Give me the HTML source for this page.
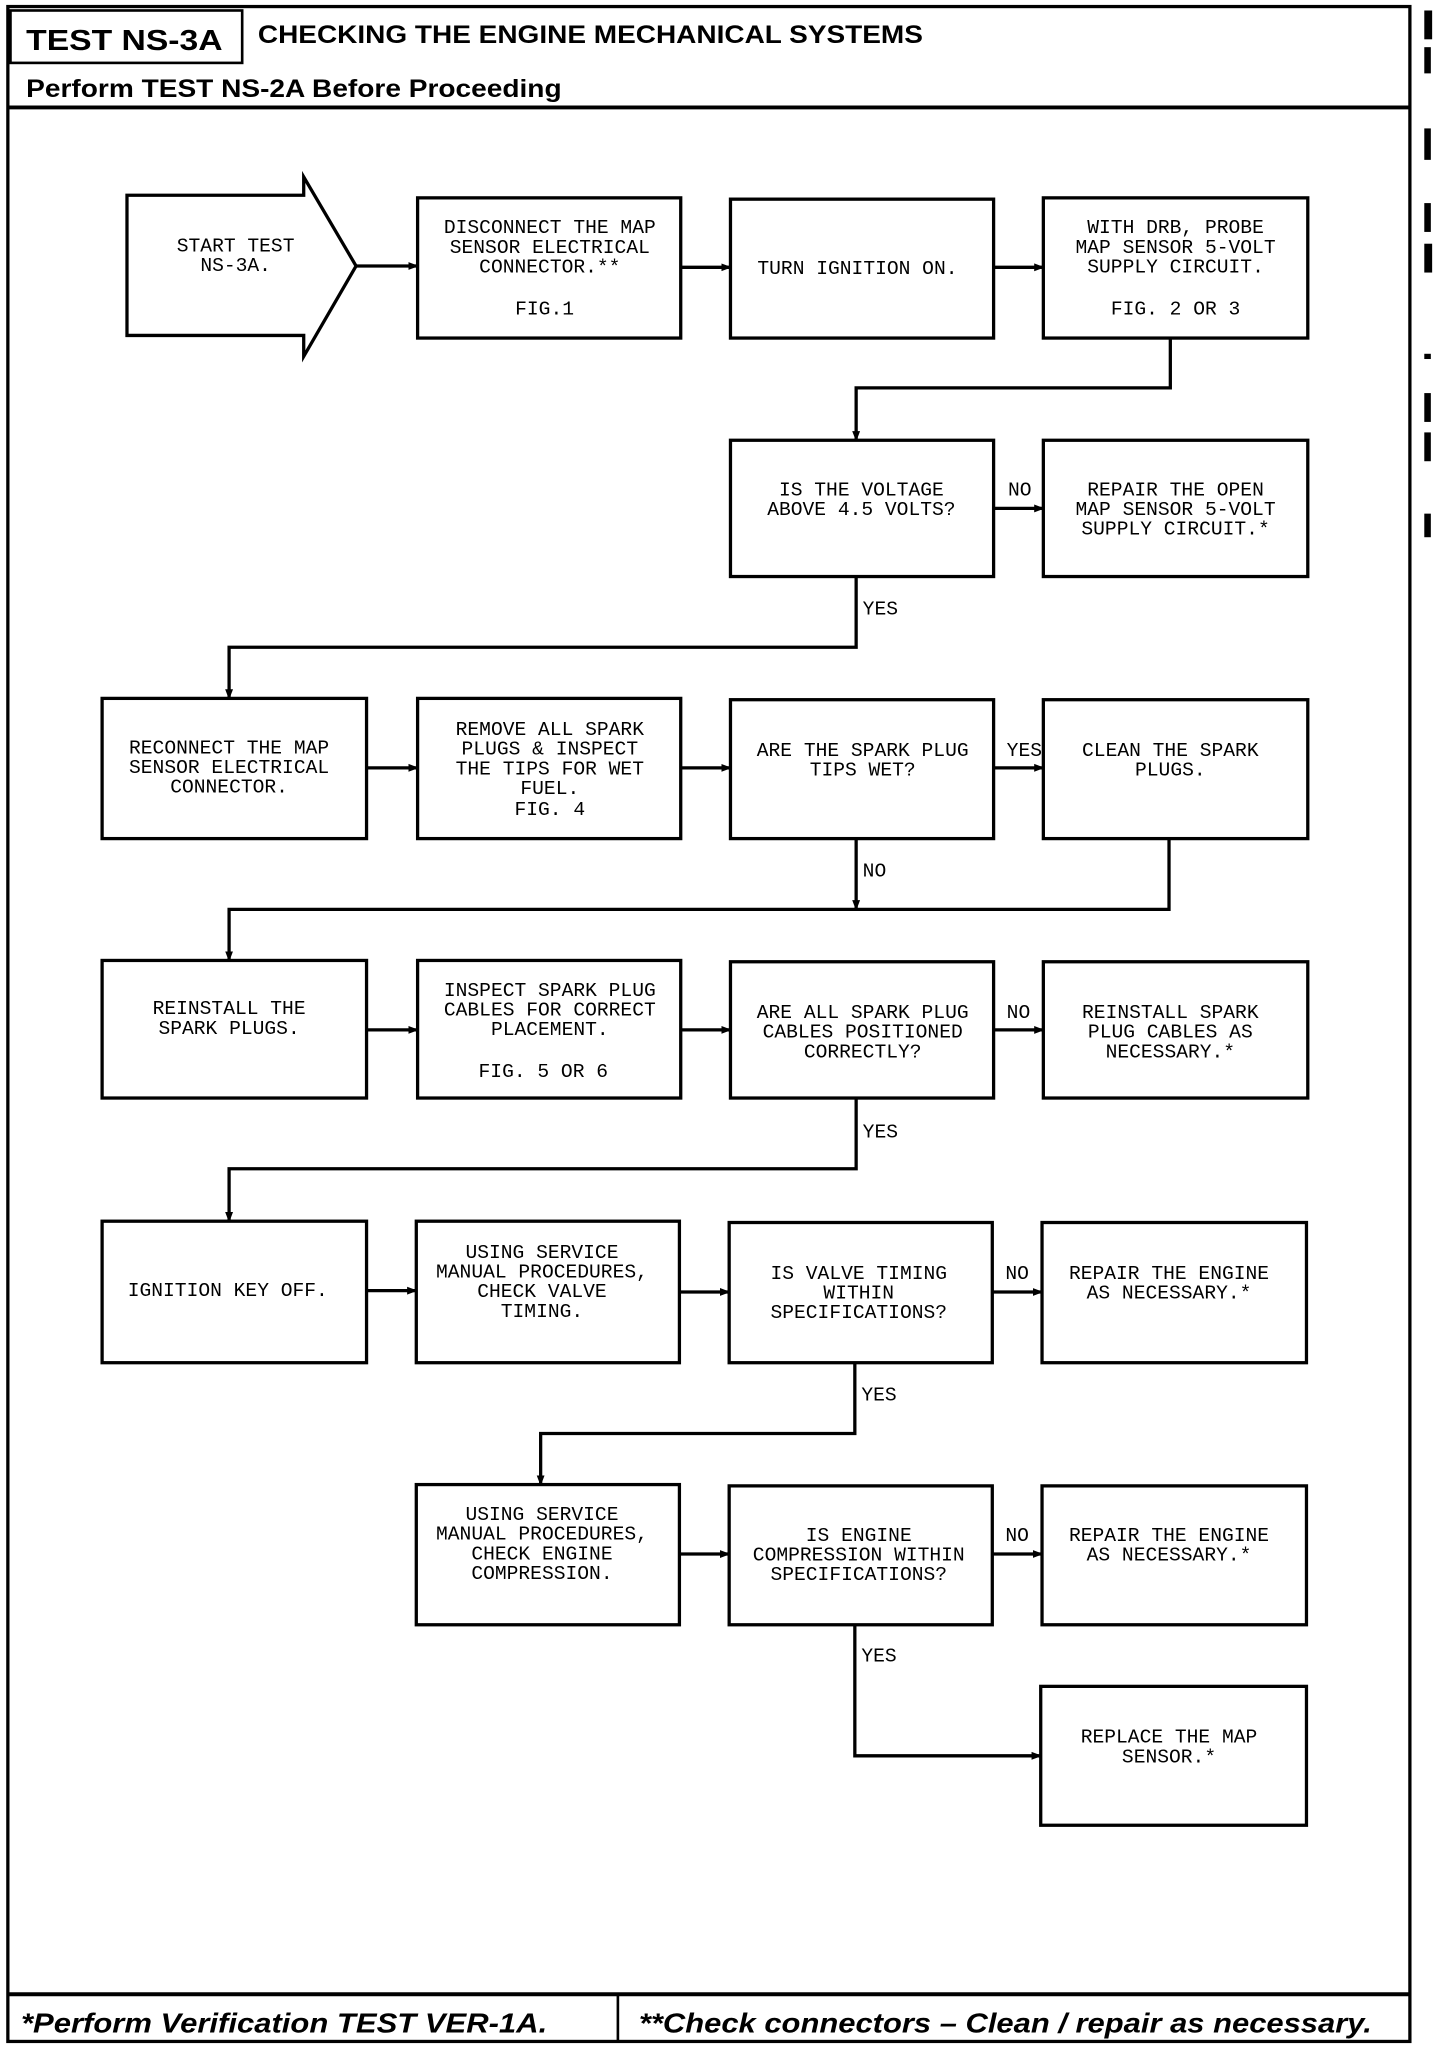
<!DOCTYPE html>
<html><head><meta charset="utf-8"><style>
html,body{margin:0;padding:0;background:#fff;}
svg{display:block;}
.t{font-family:"Liberation Mono",monospace;font-size:15px;fill:#000;text-anchor:middle;}
.h{font-family:"Liberation Sans",sans-serif;font-weight:bold;fill:#000;}
.l{font-family:"Liberation Mono",monospace;font-size:15px;fill:#000;}
</style></head><body>
<svg width="1440" height="2048" viewBox="0 0 1100 1563" preserveAspectRatio="none" xmlns="http://www.w3.org/2000/svg">
<defs><marker id="a" markerWidth="8" markerHeight="8" refX="7" refY="4" orient="auto" markerUnits="userSpaceOnUse"><path d="M0,1 L8,4 L0,7 z" fill="#000"/></marker></defs>
<g fill="none" stroke="#000" stroke-width="2.5">
<rect x="6" y="5" width="1071" height="1553"/>
<line x1="6" y1="82" x2="1077" y2="82" stroke-width="3"/>
<rect x="8" y="8" width="177" height="40" stroke-width="2"/>
<line x1="6" y1="1522" x2="1077" y2="1522" stroke-width="3"/>
<line x1="472" y1="1522" x2="472" y2="1558" stroke-width="2"/>
</g>
<text class="h" x="20" y="38" font-size="22" textLength="150" lengthAdjust="spacingAndGlyphs">TEST NS-3A</text>
<text class="h" x="197" y="33" font-size="19" textLength="508" lengthAdjust="spacingAndGlyphs">CHECKING THE ENGINE MECHANICAL SYSTEMS</text>
<text class="h" x="20" y="74" font-size="19" textLength="409" lengthAdjust="spacingAndGlyphs">Perform TEST NS-2A Before Proceeding</text>
<text class="h" x="16" y="1551" font-size="21" font-style="italic" textLength="402" lengthAdjust="spacingAndGlyphs">*Perform Verification TEST VER-1A.</text>
<text class="h" x="488" y="1551" font-size="21" font-style="italic" textLength="560" lengthAdjust="spacingAndGlyphs">**Check connectors – Clean / repair as necessary.</text>
<g fill="#fff" stroke="#000" stroke-width="2.5">
<path d="M97,149 L232,149 L232,135 L272,203 L232,272 L232,256 L97,256 Z"/>
<rect x="319" y="151" width="201" height="107"/>
<rect x="558" y="152" width="201" height="106"/>
<rect x="797" y="151" width="202" height="107"/>
<rect x="558" y="336" width="201" height="104"/>
<rect x="797" y="336" width="202" height="104"/>
<rect x="78" y="533" width="202" height="107"/>
<rect x="319" y="533" width="201" height="107"/>
<rect x="558" y="534" width="201" height="106"/>
<rect x="797" y="534" width="202" height="106"/>
<rect x="78" y="733" width="202" height="105"/>
<rect x="319" y="733" width="201" height="105"/>
<rect x="558" y="734" width="201" height="104"/>
<rect x="797" y="734" width="202" height="104"/>
<rect x="78" y="932" width="202" height="108"/>
<rect x="318" y="932" width="201" height="108"/>
<rect x="557" y="933" width="201" height="107"/>
<rect x="796" y="933" width="202" height="107"/>
<rect x="318" y="1133" width="201" height="107"/>
<rect x="557" y="1134" width="201" height="106"/>
<rect x="796" y="1134" width="202" height="106"/>
<rect x="795" y="1287" width="203" height="106"/>
</g>
<g fill="none" stroke="#000" stroke-width="2.5" marker-end="url(#a)">
<line x1="272" y1="203" x2="319" y2="203"/>
<line x1="520" y1="204" x2="558" y2="204"/>
<line x1="759" y1="204" x2="797" y2="204"/>
<path d="M894,258 V296 H654 V336"/>
<line x1="759" y1="388" x2="797" y2="388"/>
<path d="M654,440 V494 H175 V533"/>
<line x1="280" y1="586" x2="319" y2="586"/>
<line x1="520" y1="586" x2="558" y2="586"/>
<line x1="759" y1="586" x2="797" y2="586"/>
<line x1="654" y1="640" x2="654" y2="694"/>
<path d="M893,640 V694 H175 V733"/>
<line x1="280" y1="786" x2="319" y2="786"/>
<line x1="520" y1="786" x2="558" y2="786"/>
<line x1="759" y1="786" x2="797" y2="786"/>
<path d="M654,838 V892 H175 V932"/>
<line x1="280" y1="985" x2="318" y2="985"/>
<line x1="519" y1="986" x2="557" y2="986"/>
<line x1="758" y1="986" x2="796" y2="986"/>
<path d="M653,1040 V1094 H413 V1133"/>
<line x1="519" y1="1186" x2="557" y2="1186"/>
<line x1="758" y1="1186" x2="796" y2="1186"/>
<path d="M653,1240 V1340 H795"/>
</g>
<g class="l">
<text x="770" y="378">NO</text>
<text x="659" y="469">YES</text>
<text x="769" y="577">YES</text>
<text x="659" y="669">NO</text>
<text x="769" y="777">NO</text>
<text x="659" y="868">YES</text>
<text x="768" y="976">NO</text>
<text x="658" y="1069">YES</text>
<text x="768" y="1176">NO</text>
<text x="658" y="1268">YES</text>
</g>
<g class="t">
<text x="180" y="192">START TEST</text><text x="180" y="207">NS-3A.</text>
<text x="420" y="178">DISCONNECT THE MAP</text><text x="420" y="193">SENSOR ELECTRICAL</text><text x="420" y="208">CONNECTOR.**</text><text x="416" y="240">FIG.1</text>
<text x="655" y="209">TURN IGNITION ON.</text>
<text x="898" y="178">WITH DRB, PROBE</text><text x="898" y="193">MAP SENSOR 5-VOLT</text><text x="898" y="208">SUPPLY CIRCUIT.</text><text x="898" y="240">FIG. 2 OR 3</text>
<text x="658" y="378">IS THE VOLTAGE</text><text x="658" y="393">ABOVE 4.5 VOLTS?</text>
<text x="898" y="378">REPAIR THE OPEN</text><text x="898" y="393">MAP SENSOR 5-VOLT</text><text x="898" y="408">SUPPLY CIRCUIT.*</text>
<text x="175" y="575">RECONNECT THE MAP</text><text x="175" y="590">SENSOR ELECTRICAL</text><text x="175" y="605">CONNECTOR.</text>
<text x="420" y="561">REMOVE ALL SPARK</text><text x="420" y="576">PLUGS &amp; INSPECT</text><text x="420" y="591">THE TIPS FOR WET</text><text x="420" y="606">FUEL.</text><text x="420" y="622">FIG. 4</text>
<text x="659" y="577">ARE THE SPARK PLUG</text><text x="659" y="592">TIPS WET?</text>
<text x="894" y="577">CLEAN THE SPARK</text><text x="894" y="592">PLUGS.</text>
<text x="175" y="774">REINSTALL THE</text><text x="175" y="789">SPARK PLUGS.</text>
<text x="420" y="760">INSPECT SPARK PLUG</text><text x="420" y="775">CABLES FOR CORRECT</text><text x="420" y="790">PLACEMENT.</text><text x="415" y="822">FIG. 5 OR 6</text>
<text x="659" y="777">ARE ALL SPARK PLUG</text><text x="659" y="792">CABLES POSITIONED</text><text x="659" y="807">CORRECTLY?</text>
<text x="894" y="777">REINSTALL SPARK</text><text x="894" y="792">PLUG CABLES AS</text><text x="894" y="807">NECESSARY.*</text>
<text x="174" y="989">IGNITION KEY OFF.</text>
<text x="414" y="960">USING SERVICE</text><text x="414" y="975">MANUAL PROCEDURES,</text><text x="414" y="990">CHECK VALVE</text><text x="414" y="1005">TIMING.</text>
<text x="656" y="976">IS VALVE TIMING</text><text x="656" y="991">WITHIN</text><text x="656" y="1006">SPECIFICATIONS?</text>
<text x="893" y="976">REPAIR THE ENGINE</text><text x="893" y="991">AS NECESSARY.*</text>
<text x="414" y="1160">USING SERVICE</text><text x="414" y="1175">MANUAL PROCEDURES,</text><text x="414" y="1190">CHECK ENGINE</text><text x="414" y="1205">COMPRESSION.</text>
<text x="656" y="1176">IS ENGINE</text><text x="656" y="1191">COMPRESSION WITHIN</text><text x="656" y="1206">SPECIFICATIONS?</text>
<text x="893" y="1176">REPAIR THE ENGINE</text><text x="893" y="1191">AS NECESSARY.*</text>
<text x="893" y="1330">REPLACE THE MAP</text><text x="893" y="1345">SENSOR.*</text>
</g>
<g fill="#000">
<rect x="1088" y="8" width="6" height="22"/><rect x="1088" y="36" width="5" height="20"/>
<rect x="1088" y="98" width="5" height="24"/><rect x="1088" y="155" width="5" height="22"/>
<rect x="1088" y="186" width="6" height="22"/><rect x="1088" y="270" width="5" height="4"/>
<rect x="1088" y="300" width="5" height="22"/><rect x="1088" y="330" width="5" height="22"/>
<rect x="1088" y="392" width="5" height="18"/>
</g>
</svg>
</body></html>
